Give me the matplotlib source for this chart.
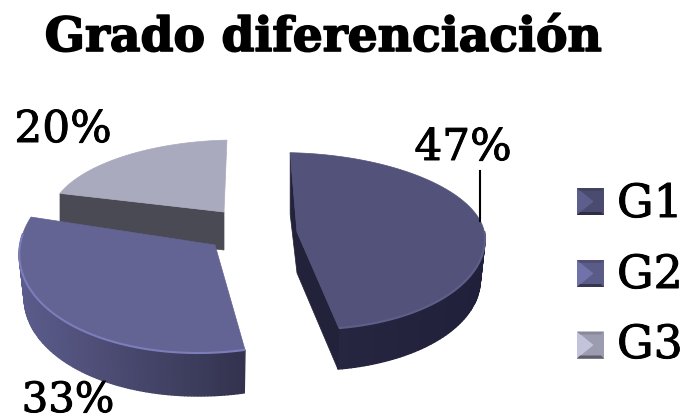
import numpy as np
import matplotlib
matplotlib.use('Agg')
import matplotlib.pyplot as plt
import matplotlib.patheffects as pe
from matplotlib.colors import to_rgb
from matplotlib.patches import Polygon

title = 'Grado diferenciación'
categories = ['G1', 'G2', 'G3']
values = [47, 33, 20]
labels = ['47%', '33%', '20%']

top_colors = ['#52527a', '#636394', '#aaaabf']
side_left = ['#262640', '#5c5c8c', '#4a4a55']
side_right = ['#20203a', '#33334f', '#4a4a55']
rim_colors = ['#5e5e88', '#7d7dbb', '#b0b0c4']

# apex x, apex y, a, b up, b down, x shear, y shear, depth (pixels)
shapes = [
    (297, 232, 188, 79, 97, 3, 8, 41),
    (215, 245, 195, 108, 108, 17, 0, 43),
    (224, 212, 173, 72, 72, 12, 0, 38),
]
bottom_shrink = 0.975

fig = plt.figure(figsize=(6.84, 4.2), dpi=100)
ax = fig.add_axes([0, 0, 1, 1])
ax.set_xlim(0, 684)
ax.set_ylim(420, 0)
ax.axis('off')


def rim(shape, t):
    cx, cy, a, bu, bd, s, k, depth = shape
    sn = np.sin(t)
    b = np.where(sn > 0, bu, bd)
    return cx + a * np.cos(t) + s * sn, cy - b * sn + k * np.cos(t)


def draw_slice(i, t0, t1):
    shape = shapes[i]
    cx, cy, depth = shape[0], shape[1], shape[7]
    t = np.radians(np.linspace(t0, t1, 120))
    x, y = rim(shape, t)
    xb = cx + (x - cx) * bottom_shrink
    # outer side, only the part facing the viewer
    front = np.sin(t) < 0.12
    if front.any():
        fx, fy, fb = x[front], y[front], xb[front]
        c0 = np.array(to_rgb(side_left[i]))
        c1 = np.array(to_rgb(side_right[i]))
        for k in range(len(fx) - 1):
            g = (fx[k] - fx.min()) / max(fx.max() - fx.min(), 1)
            col = c0 + (c1 - c0) * g
            ax.add_patch(Polygon([(fx[k], fy[k]), (fx[k + 1], fy[k + 1]),
                                  (fb[k + 1], fy[k + 1] + depth), (fb[k], fy[k] + depth)],
                                 closed=True, fc=col, ec=col, lw=1, zorder=2 + i * 0.01))
    # cut faces
    if i == 0:
        ax.add_patch(Polygon([(x[0], y[0]), (cx, cy), (x[-1], y[-1]), (xb[-1], y[-1] + depth),
                              (cx, cy + depth), (x[0], y[0] + depth * 1.5)],
                             closed=True, fc='#22223a', ec='#22223a', lw=0.5, zorder=2))
    if i == 2:
        ax.add_patch(Polygon([(x[0], y[0]), (cx, cy), (cx, cy + depth), (x[0], y[0] + depth)],
                             closed=True, fc=side_left[i], ec=side_left[i], lw=0.5, zorder=1))
    # top face
    ax.add_patch(Polygon(np.column_stack([np.r_[cx, x], np.r_[cy, y]]), closed=True,
                         fc=top_colors[i], ec=top_colors[i], lw=0.5, zorder=3))
    ax.plot(x[front], y[front], color=rim_colors[i], lw=1.5, zorder=4, solid_capstyle='butt')


# clockwise from just left of the top
start = 93
angles = []
t = start
for v in values:
    sweep = v / sum(values) * 360
    angles.append((t, t - sweep))
    t -= sweep
for i in [2, 0, 1]:
    draw_slice(i, *angles[i])

fam = 'DejaVu Serif'
bold = [pe.withStroke(linewidth=0.7, foreground='black')]
ax.text(323, 51, title, family=fam, weight='bold', fontsize=34, ha='center', va='baseline',
        path_effects=[pe.withStroke(linewidth=1.2, foreground='black')])
ax.text(463, 160, labels[0], family=fam, fontsize=31.5, ha='center', va='baseline', path_effects=bold)
ax.text(68, 412, labels[1], family=fam, fontsize=30, ha='center', va='baseline', path_effects=bold)
ax.text(63, 142, labels[2], family=fam, fontsize=31.5, ha='center', va='baseline', path_effects=bold)
ax.plot([479.5, 479.5], [171, 221], color='black', lw=1.5, zorder=5)

# bevelled legend keys
key_y = [201.5, 273.5, 345]
text_y = [217, 288, 358]
key_x = 577
key_size = 27
band = 3
for name, cy, ty, col in zip(categories, key_y, text_y, top_colors):
    c = np.array(to_rgb(col))
    x0, x1 = key_x, key_x + key_size
    y0, y1 = cy - key_size / 2, cy + key_size / 2
    xc = (x0 + x1) / 2
    ax.add_patch(Polygon([(x0, y0), (x1, y0), (x1, y1), (x0, y1)], fc=c * 0.92, ec='none'))
    ax.add_patch(Polygon([(x0, y0), (x0, y1), (xc + 3, cy)], fc=np.minimum(c * 1.15, 1), ec='none'))
    ax.add_patch(Polygon([(x0, y0), (x1, y0), (x1 - band, y0 + band), (x0 + band, y0 + band)], fc=c * 0.8, ec='none'))
    ax.add_patch(Polygon([(x0, y1), (x1, y1), (x1 - band, y1 - band), (x0 + band, y1 - band)], fc=c * 0.55, ec='none'))
    ax.text(617, ty, name, family=fam, fontsize=33, ha='left', va='baseline', path_effects=bold)

plt.savefig('out.png', dpi=100)
